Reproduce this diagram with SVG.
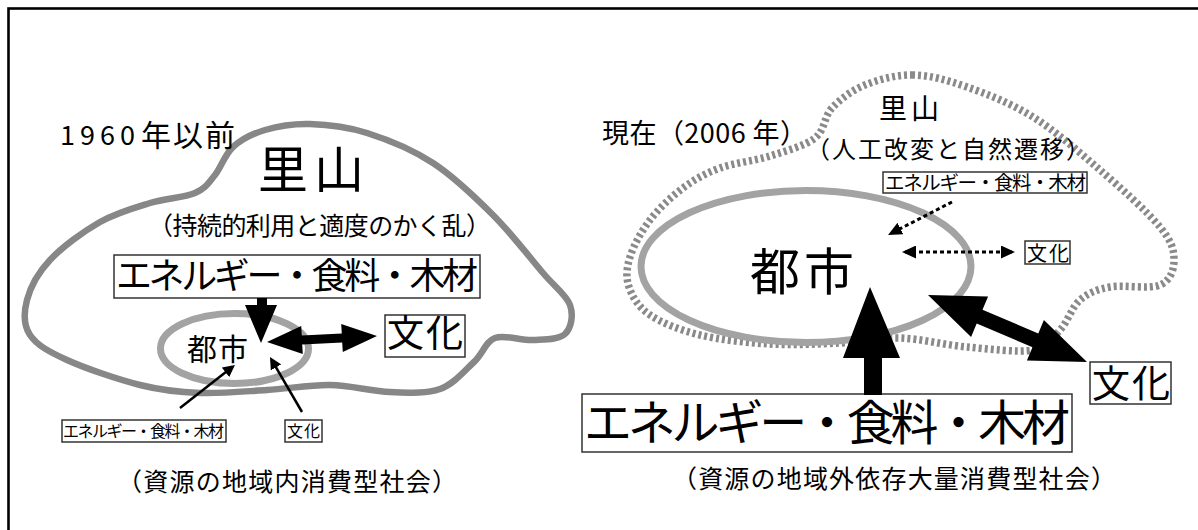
<svg xmlns="http://www.w3.org/2000/svg" width="1198" height="530" viewBox="0 0 1198 530">
<defs>
<style>
text{font-family:"Noto Sans CJK JP","Noto Sans",sans-serif;fill:#000}
.box{fill:#fff;stroke:#333;stroke-width:1.5}
.thin{stroke:#000;stroke-width:2.5;fill:none}
.dot{stroke:#000;stroke-width:3;fill:none;stroke-dasharray:4 3}
.solid{fill:#000}
.ring{fill:none;stroke:#a3a3a3;stroke-width:7}
</style>
<marker id="ah" viewBox="0 0 12 12" refX="9" refY="6" markerWidth="12" markerHeight="12" markerUnits="userSpaceOnUse" orient="auto-start-reverse"><path d="M0,0 L12,6 L0,12 Z" fill="#000"/></marker>
<marker id="ahd" viewBox="0 0 14 13" refX="11" refY="6.5" markerWidth="14" markerHeight="13" markerUnits="userSpaceOnUse" orient="auto-start-reverse"><path d="M0,0 L14,6.5 L0,13 Z" fill="#000"/></marker>
</defs>
<rect x="0" y="0" width="1198" height="530" fill="#fff"/>
<rect id="frame" x="8.5" y="8.5" width="1200" height="530" fill="none" stroke="#000" stroke-width="2.6"/>

<g id="left-satoyama">
<path d="M233,147 C241.3,139.5 252.2,133.8 265,130 C277.8,126.2 293,123.5 310,124 C327,124.5 346.5,126.5 367,133 C387.5,139.5 412,149.3 433,163 C454,176.7 474.7,196.7 493,215 C511.3,233.3 530.2,258 543,273 C555.8,288 566.3,294.8 570,305 C573.7,315.2 571.2,328.2 565,334 C558.8,339.8 544.7,339.3 533,340 C521.3,340.7 504.8,334.3 495,338 C485.2,341.7 483.2,353.5 474,362 C464.8,370.5 454,384 440,389 C426,394 408.3,392.7 390,392 C371.7,391.3 350.5,385.3 330,385 C309.5,384.7 288.7,388.7 267,390 C245.3,391.3 221.2,393.8 200,393 C178.8,392.2 162.2,390.5 140,385 C117.8,379.5 85.3,368.3 67,360 C48.7,351.7 36.7,345 30,335 C23.3,325 23.7,312.5 27,300 C30.3,287.5 37.8,273 50,260 C62.2,247 83.3,231.5 100,222 C116.7,212.5 134.2,207.8 150,203 C165.8,198.2 184.2,197.7 195,193 C205.8,188.3 208.7,182.7 215,175 C221.3,167.3 224.7,154.5 233,147 Z" fill="none" stroke="#878787" stroke-width="6.5"/>
<text x="258" y="188" font-size="50" textLength="106">里山</text>
<text x="148" y="235" font-size="25" textLength="343">（持続的利用と適度のかく乱）</text>
</g>
<g id="left-title">
<text x="60" y="145" font-size="27" font-family="Liberation Sans, sans-serif" letter-spacing="5">1960</text>
<text x="141" y="146" font-size="30" letter-spacing="2">年以前</text>
</g>

<g id="left-city">
<ellipse class="ring" cx="234.5" cy="348.5" rx="74" ry="35"/>
<text x="187" y="360" font-size="30" textLength="61">都市</text>
</g>
<g id="left-resources">
<rect class="box" x="114" y="255" width="366" height="43"/>
<text x="116" y="289" font-size="36" textLength="362">エネルギー・食料・木材</text>
</g>
<g id="left-culture">
<rect class="box" x="385" y="315" width="80" height="42"/>
<text x="387" y="347" font-size="37" textLength="76">文化</text>
</g>
<g id="left-resources-small">
<rect class="box" x="62" y="420" width="164" height="22" stroke-width="1.2"/>
<text x="63" y="437" font-size="16" textLength="161">エネルギー・食料・木材</text>
</g>
<g id="left-culture-small">
<rect class="box" x="285" y="420" width="37" height="22" stroke-width="1.2"/>
<text x="287" y="437" font-size="16" textLength="33">文化</text>
</g>
<text id="left-caption" x="117" y="491" font-size="25" textLength="340">（資源の地域内消費型社会）</text>

<g id="right-satoyama">
<path d="M913,75 C896,74.7 878.5,79.5 865,85 C851.5,90.5 840.3,99.2 832,108 C823.7,116.8 825.3,130 815,138 C804.7,146 785.8,151 770,156 C754.2,161 734.5,162.7 720,168 C705.5,173.3 694.7,179.3 683,188 C671.3,196.7 658.8,208.5 650,220 C641.2,231.5 633.5,245.8 630,257 C626.5,268.2 625.7,277.3 629,287 C632.3,296.7 638.2,307 650,315 C661.8,323 680,330.2 700,335 C720,339.8 746.7,342.7 770,344 C793.3,345.3 818.3,344 840,343 C861.7,342 878.8,337.3 900,338 C921.2,338.7 944.8,345 967,347 C989.2,349 1017.5,352.8 1033,350 C1048.5,347.2 1052.2,338.3 1060,330 C1067.8,321.7 1071.7,307.2 1080,300 C1088.3,292.8 1096.7,289.5 1110,287 C1123.3,284.5 1149.3,289.5 1160,285 C1170.7,280.5 1174,269.7 1174,260 C1174,250.3 1172.3,242 1160,227 C1147.7,212 1121.2,188.3 1100,170 C1078.8,151.7 1055.2,130.8 1033,117 C1010.8,103.2 987,94 967,87 C947,80 930,75.3 913,75 Z" fill="none" stroke="#8a8a8a" stroke-width="7.5" stroke-dasharray="3 3"/>
<text x="879" y="119" font-size="28" textLength="60">里山</text>
<text x="806" y="158" font-size="24" textLength="284">（人工改変と自然遷移）</text>
</g>
<text id="right-title" x="602" y="143" font-size="27" textLength="205">現在（2006 年）</text>

<g id="right-city">
<ellipse class="ring" cx="806" cy="266.5" rx="165" ry="76" stroke-width="7.5"/>
<text x="750" y="290" font-size="50" textLength="104">都市</text>
</g>
<g id="right-resources-small">
<rect class="box" x="883" y="172" width="204" height="21" stroke-width="1.2"/>
<text x="885" y="190" font-size="19.5" textLength="201">エネルギー・食料・木材</text>
</g>
<g id="right-culture-small">
<rect class="box" x="1025" y="241" width="45" height="23" stroke-width="1.2"/>
<text x="1027" y="261" font-size="20" textLength="42">文化</text>
</g>
<g id="right-resources">
<rect class="box" x="582" y="394" width="490" height="58"/>
<text x="584" y="440" font-size="48" textLength="486">エネルギー・食料・木材</text>
</g>
<g id="right-culture">
<rect class="box" x="1090" y="362" width="81" height="42"/>
<text x="1092" y="397" font-size="38" textLength="78">文化</text>
</g>
<text id="right-caption" x="672" y="488" font-size="25" textLength="444">（資源の地域外依存大量消費型社会）</text>

<g id="connectors">
<polygon class="solid" points="257,298 267,298 267,305 277,305 261,343 245,305 257,305"/>
<polygon class="solid" points="267,342 301.2,326.1 301.8,335.6 341.8,333.4 341.2,323.9 377,336 342.8,351.9 342.2,342.4 302.2,344.6 302.8,354.1"/>
<line class="thin" x1="180" y1="408" x2="232.6" y2="366.8" marker-end="url(#ah)"/>
<line class="thin" x1="302" y1="412" x2="271.5" y2="359.6" marker-end="url(#ah)"/>
<polygon class="solid" points="864,395 882,395 882,358 900,358 870,287 843,358 864,358"/>
<polygon class="solid" points="928,295 988.1,296.4 982.5,309.8 1038.3,333.4 1043.9,320 1087,362 1026.9,360.6 1032.5,347.2 976.7,323.6 971.1,337"/>
<line class="dot" x1="952" y1="202" x2="890.7" y2="233.6" marker-end="url(#ahd)"/>
<line class="dot" x1="905" y1="252" x2="1012" y2="252" marker-start="url(#ahd)" marker-end="url(#ahd)"/>
</g>
</svg>
